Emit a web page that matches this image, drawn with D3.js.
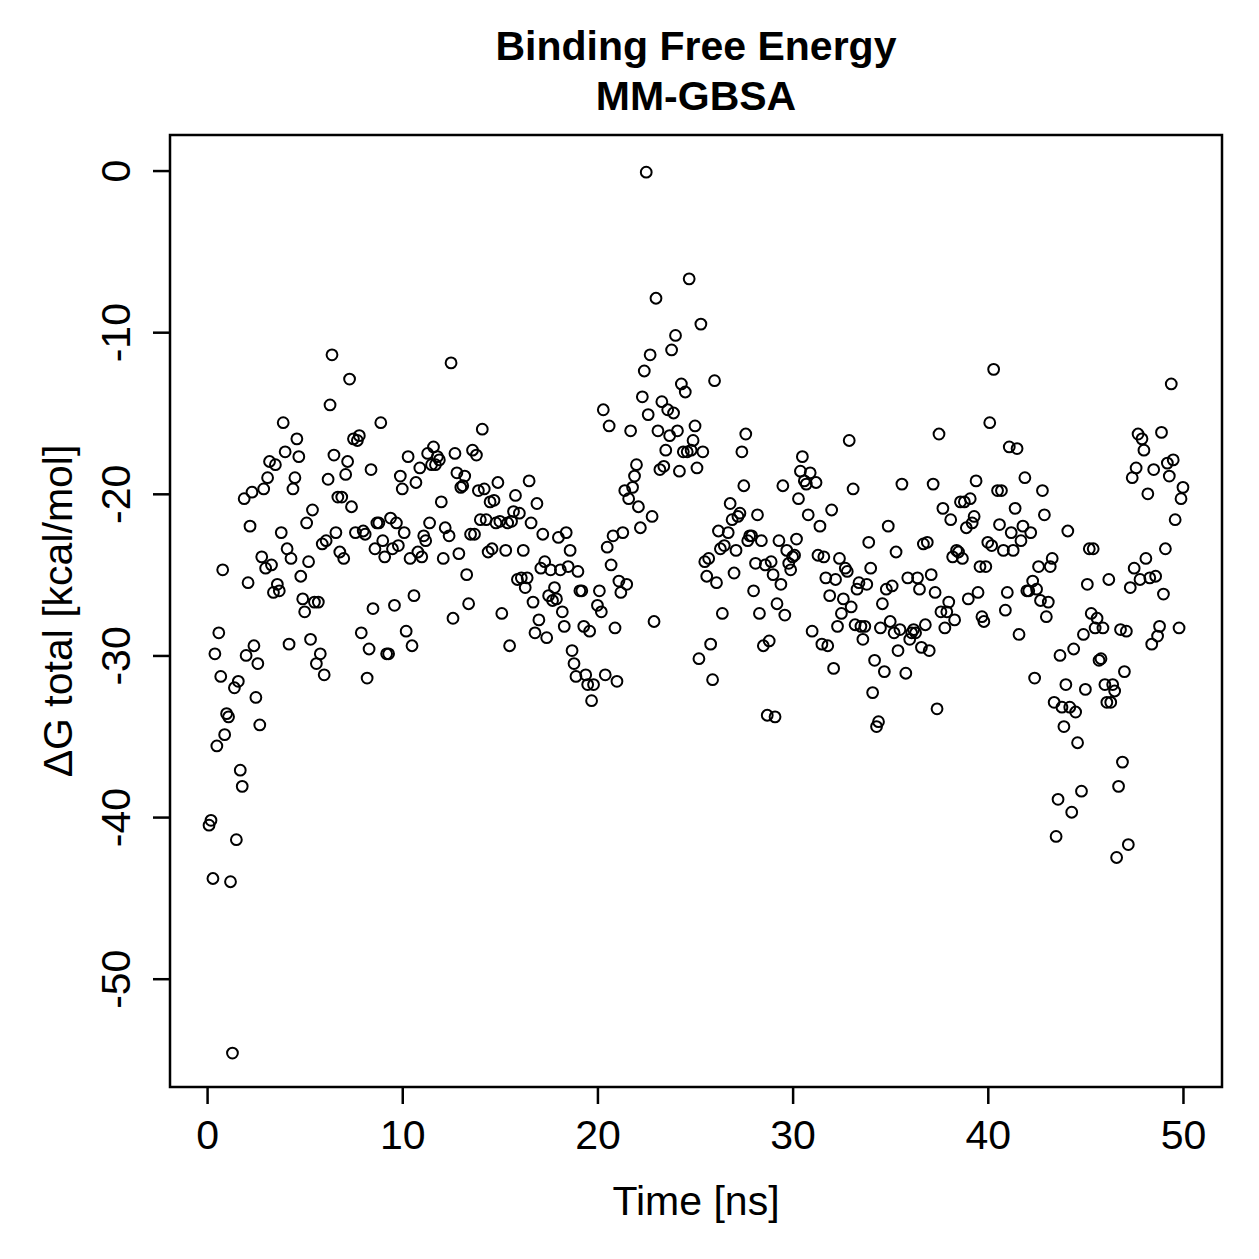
<!DOCTYPE html>
<html>
<head>
<meta charset="utf-8">
<script src="https://cdn.jsdelivr.net/npm/d3@7"></script>
<style>
  body { margin: 0; background: #fff; }
  text { font-family: "Liberation Sans", Arial, Helvetica, sans-serif; fill: #000; }
</style>
</head>
<body>
<div id="chart"></div>
<script>
// time of each frame [ns]
const time = [
  0.1,0.2,0.3,0.4,0.5,0.6,0.7,0.8,0.9,1.0,
  1.1,1.2,1.3,1.4,1.5,1.6,1.7,1.8,1.9,2.0,
  2.1,2.2,2.3,2.4,2.5,2.6,2.7,2.8,2.9,3.0,
  3.1,3.2,3.3,3.4,3.5,3.6,3.7,3.8,3.9,4.0,
  4.1,4.2,4.3,4.4,4.5,4.6,4.7,4.8,4.9,5.0,
  5.1,5.2,5.3,5.4,5.5,5.6,5.7,5.8,5.9,6.0,
  6.1,6.2,6.3,6.4,6.5,6.6,6.7,6.8,6.9,7.0,
  7.1,7.2,7.3,7.4,7.5,7.6,7.7,7.8,7.9,8.0,
  8.1,8.2,8.3,8.4,8.5,8.6,8.7,8.8,8.9,9.0,
  9.1,9.2,9.3,9.4,9.5,9.6,9.7,9.8,9.9,10.0,
  10.1,10.2,10.3,10.4,10.5,10.6,10.7,10.8,10.9,11.0,
  11.1,11.2,11.3,11.4,11.5,11.6,11.7,11.8,11.9,12.0,
  12.1,12.2,12.4,12.5,12.6,12.7,12.8,12.9,13.0,
  13.1,13.2,13.3,13.4,13.5,13.6,13.7,13.8,13.9,14.0,
  14.1,14.2,14.3,14.4,14.5,14.6,14.7,14.8,14.9,15.0,
  15.1,15.3,15.4,15.5,15.6,15.7,15.8,15.9,16.0,
  16.1,16.2,16.3,16.4,16.5,16.6,16.7,16.8,16.9,17.0,
  17.1,17.2,17.3,17.4,17.5,17.6,17.7,17.8,17.9,18.0,
  18.1,18.2,18.3,18.4,18.5,18.6,18.7,18.8,18.9,19.0,
  19.1,19.2,19.3,19.4,19.5,19.6,19.7,19.8,20.0,
  20.1,20.2,20.3,20.4,20.5,20.6,20.7,20.8,20.9,21.0,
  21.1,21.2,21.3,21.4,21.5,21.6,21.7,21.8,21.9,22.0,
  22.1,22.2,22.3,22.4,22.5,22.6,22.7,22.8,22.9,23.0,
  23.1,23.2,23.3,23.4,23.5,23.6,23.7,23.8,23.9,24.0,
  24.1,24.2,24.3,24.4,24.5,24.6,24.7,24.8,24.9,25.0,
  25.1,25.2,25.3,25.4,25.5,25.6,25.7,25.8,25.9,26.0,
  26.1,26.2,26.3,26.4,26.5,26.7,26.8,26.9,27.0,
  27.1,27.2,27.3,27.4,27.5,27.6,27.7,27.8,27.9,28.0,
  28.1,28.2,28.3,28.4,28.5,28.6,28.7,28.8,28.9,29.0,
  29.1,29.2,29.3,29.4,29.5,29.6,29.7,29.8,29.9,30.0,
  30.1,30.2,30.3,30.4,30.5,30.6,30.7,30.8,30.9,31.0,
  31.2,31.3,31.4,31.5,31.6,31.7,31.8,31.9,32.0,
  32.1,32.2,32.3,32.4,32.5,32.6,32.7,32.8,32.9,33.0,
  33.1,33.2,33.3,33.4,33.5,33.6,33.7,33.8,33.9,34.0,
  34.1,34.2,34.3,34.4,34.5,34.6,34.7,34.8,34.9,35.0,
  35.1,35.2,35.3,35.4,35.5,35.6,35.8,35.9,36.0,
  36.1,36.2,36.3,36.4,36.5,36.6,36.7,36.8,36.9,37.0,
  37.1,37.2,37.3,37.4,37.5,37.6,37.7,37.8,37.9,38.0,
  38.1,38.2,38.3,38.4,38.5,38.6,38.7,38.8,38.9,39.0,
  39.1,39.2,39.3,39.4,39.5,39.6,39.7,39.8,39.9,40.0,
  40.1,40.2,40.3,40.5,40.6,40.7,40.8,40.9,41.0,
  41.1,41.2,41.3,41.4,41.5,41.6,41.7,41.8,41.9,42.0,
  42.1,42.2,42.3,42.4,42.5,42.6,42.7,42.8,42.9,43.0,
  43.1,43.2,43.3,43.4,43.5,43.6,43.7,43.8,43.9,44.0,
  44.1,44.2,44.3,44.4,44.5,44.6,44.8,44.9,45.0,
  45.1,45.2,45.3,45.4,45.5,45.6,45.7,45.8,45.9,46.0,
  46.1,46.2,46.3,46.4,46.5,46.6,46.7,46.8,46.9,47.0,
  47.1,47.2,47.3,47.4,47.5,47.6,47.7,47.8,47.9,48.0,
  48.1,48.2,48.3,48.4,48.5,48.6,48.7,48.8,48.9,49.0,
  49.1,49.2,49.3,49.4,49.5,49.6,49.8,49.9,50.0
];

// delta G total [kcal/mol] for each frame
const dG = [
  -40.5,-40.2,-43.8,-29.9,-35.6,-28.6,-31.3,-24.7,-34.9,-33.6,
  -33.8,-44.0,-54.6,-32.0,-41.4,-31.6,-37.1,-38.1,-20.3,-30.0,
  -25.5,-22.0,-19.9,-29.4,-32.6,-30.5,-34.3,-23.9,-19.7,-24.6,
  -19.0,-18.0,-24.4,-26.1,-18.2,-25.6,-26.0,-22.4,-15.6,-17.4,
  -23.4,-29.3,-24.0,-19.7,-19.0,-16.6,-17.7,-25.1,-26.5,-27.3,
  -21.8,-24.2,-29.0,-21.0,-26.7,-30.5,-26.7,-29.9,-23.1,-31.2,
  -22.9,-19.1,-14.5,-11.4,-17.6,-22.4,-20.2,-23.6,-20.2,-24.0,
  -18.8,-18.0,-12.9,-20.8,-16.6,-22.4,-16.7,-16.4,-28.6,-22.3,
  -22.5,-31.4,-29.6,-18.5,-27.1,-23.4,-21.8,-21.8,-15.6,-22.9,
  -23.9,-29.9,-29.9,-21.5,-23.4,-26.9,-21.8,-23.2,-18.9,-19.7,
  -22.4,-28.5,-17.7,-24.0,-29.4,-26.3,-19.3,-23.6,-18.4,-23.9,
  -22.6,-22.9,-17.5,-21.8,-18.2,-17.1,-18.2,-17.7,-17.9,-20.5,
  -24.0,-22.1,-22.6,-11.9,-27.7,-17.5,-18.7,-23.7,-19.6,
  -19.5,-18.9,-25.0,-26.8,-22.5,-17.3,-22.5,-17.6,-19.8,-21.6,
  -16.0,-19.7,-21.6,-23.6,-20.5,-23.4,-20.4,-21.8,-19.3,-21.7,
  -27.4,-23.5,-21.8,-29.4,-21.7,-21.1,-20.1,-25.3,-21.2,
  -25.2,-23.5,-25.8,-25.2,-19.2,-21.8,-26.7,-28.6,-20.6,-27.8,
  -24.6,-22.5,-24.2,-28.9,-26.3,-24.7,-26.6,-25.8,-26.5,-22.7,
  -24.7,-27.3,-28.2,-22.4,-24.5,-23.5,-29.7,-30.5,-31.3,-24.8,
  -26.0,-26.0,-28.2,-31.2,-31.8,-28.5,-32.8,-31.8,-26.9,
  -26.0,-27.3,-14.8,-31.2,-23.3,-15.8,-24.4,-22.6,-28.3,-31.6,
  -25.4,-26.1,-22.4,-19.8,-25.6,-20.3,-16.1,-19.6,-18.9,-18.2,
  -20.8,-22.1,-14.0,-12.4,-0.1,-15.1,-11.4,-21.4,-27.9,-7.9,
  -16.1,-18.5,-14.3,-18.3,-17.3,-14.8,-16.4,-11.1,-15.0,-10.2,
  -16.1,-18.6,-13.2,-17.4,-13.7,-17.4,-6.7,-17.3,-16.7,-15.8,
  -18.4,-30.2,-9.5,-17.4,-24.2,-25.1,-24.0,-29.3,-31.5,-13.0,
  -25.5,-22.3,-23.4,-27.4,-23.2,-22.4,-20.6,-21.6,-24.9,
  -23.5,-21.4,-21.2,-17.4,-19.5,-16.3,-22.9,-22.6,-22.6,-26.0,
  -24.3,-21.3,-27.4,-22.9,-29.4,-24.4,-33.7,-29.1,-24.2,-25.0,
  -33.8,-26.8,-22.9,-25.6,-19.5,-27.5,-23.5,-24.3,-24.7,-23.9,
  -23.8,-22.8,-20.3,-18.6,-17.7,-19.2,-19.4,-21.3,-18.7,-28.5,
  -19.3,-23.8,-22.0,-29.3,-23.9,-25.2,-29.4,-26.3,-21.0,
  -30.8,-25.3,-28.2,-24.0,-27.4,-26.5,-24.6,-24.8,-16.7,-27.0,
  -19.7,-28.1,-25.9,-25.5,-28.2,-29.0,-28.2,-25.6,-23.0,-24.6,
  -32.3,-30.3,-34.4,-34.1,-28.3,-26.8,-31.0,-25.9,-22.0,-27.9,
  -25.7,-28.6,-23.6,-29.7,-28.4,-19.4,-31.1,-25.2,-29.0,
  -28.6,-28.4,-28.6,-25.2,-25.9,-29.5,-23.1,-28.1,-23.0,-29.7,
  -25.0,-19.4,-26.1,-33.3,-16.3,-27.3,-20.9,-28.3,-27.3,-26.7,
  -21.6,-23.9,-27.8,-23.5,-23.6,-20.5,-24.0,-20.5,-22.1,-26.5,
  -20.3,-21.8,-21.4,-19.2,-26.1,-24.5,-27.6,-27.9,-24.5,-23.0,
  -15.6,-23.2,-12.3,-19.8,-21.9,-19.8,-23.5,-27.2,-26.1,
  -17.1,-22.4,-23.5,-20.9,-17.2,-28.7,-22.9,-22.0,-19.0,-26.0,
  -26.0,-22.4,-25.4,-31.4,-25.9,-24.5,-26.6,-19.8,-21.3,-27.6,
  -26.7,-24.5,-24.0,-32.9,-41.2,-38.9,-30.0,-33.2,-34.4,-31.8,
  -22.3,-33.2,-39.7,-29.6,-33.5,-35.4,-38.4,-28.7,-32.1,
  -25.6,-23.4,-27.4,-23.4,-28.3,-27.7,-30.3,-30.2,-28.3,-31.8,
  -32.9,-25.3,-32.9,-31.8,-32.2,-42.5,-38.1,-28.4,-36.6,-31.0,
  -28.5,-41.7,-25.8,-19.0,-24.6,-18.4,-16.3,-25.3,-16.6,-17.3,
  -24.0,-20.0,-25.2,-29.3,-18.5,-25.1,-28.8,-28.2,-16.2,-26.2,
  -23.4,-18.1,-18.9,-13.2,-17.9,-21.6,-28.3,-20.3,-19.6
];

const xTicks = [0, 10, 20, 30, 40, 50];
const yTicks = [0, -10, -20, -30, -40, -50];
const titleLines = ["Binding Free Energy", "MM-GBSA"];
const xLabel = "Time [ns]";
const yLabel = "\u0394G total [kcal/mol]";

function drawScatter() {
    const width = 1259, height = 1259;
    const margin = {top: 135, right: 37, bottom: 172, left: 170};
    const fontSize = 41;

    const x = d3.scaleLinear().domain([-1.9, 52.0]).range([margin.left, width - margin.right]);
    const y = d3.scaleLinear().domain([-56.7, 2.2]).range([height - margin.bottom, margin.top]);

    const svg = d3.select("#chart").append("svg")
        .attr("width", width)
        .attr("height", height);

    svg.append("rect")
        .attr("width", width).attr("height", height)
        .attr("fill", "#fff");

    const points = time.map((t, i) => ({t: t, v: dG[i]}));

    // the circles
    svg.append("g")
        .selectAll("circle")
        .data(points)
        .enter().append("circle")
        .attr("cx", d => x(d.t))
        .attr("cy", d => y(d.v))
        .attr("r", 5.4)
        .attr("fill", "none")
        .attr("stroke", "#000")
        .attr("stroke-width", 2);

    // x axis
    const xAxis = svg.append("g")
        .attr("transform", "translate(0," + (height - margin.bottom) + ")")
        .call(d3.axisBottom(x).tickValues(xTicks).tickSize(17).tickPadding(16));
    xAxis.select(".domain").remove();
    xAxis.selectAll("line").attr("stroke-width", 2.5);
    xAxis.selectAll("text").style("font-size", fontSize + "px");

    // y axis, labels turned like R does
    const yAxis = svg.append("g")
        .attr("transform", "translate(" + margin.left + ",0)")
        .call(d3.axisLeft(y).tickValues(yTicks).tickSize(17).tickFormat(d3.format("d")));
    yAxis.select(".domain").remove();
    yAxis.selectAll("line").attr("stroke-width", 2.5);
    yAxis.selectAll("text")
        .attr("transform", "rotate(-90)")
        .attr("x", 0)
        .attr("y", -40)
        .attr("dy", null)
        .attr("text-anchor", "middle")
        .style("font-size", fontSize + "px")
        .text(d => d < 0 ? "-" + Math.abs(d) : d);

    // plot box
    svg.append("rect")
        .attr("x", margin.left)
        .attr("y", margin.top)
        .attr("width", width - margin.left - margin.right)
        .attr("height", height - margin.top - margin.bottom)
        .attr("fill", "none")
        .attr("stroke", "#000")
        .attr("stroke-width", 2.5);

    // title
    const cx = (margin.left + width - margin.right) / 2;
    svg.selectAll(".title")
        .data(titleLines)
        .enter().append("text")
        .attr("class", "title")
        .attr("x", cx)
        .attr("y", (d, i) => 60 + i * 50)
        .attr("text-anchor", "middle")
        .style("font-size", fontSize + "px")
        .style("font-weight", "bold")
        .text(d => d);

    // axis labels
    svg.append("text")
        .attr("x", cx)
        .attr("y", 1215)
        .attr("text-anchor", "middle")
        .style("font-size", fontSize + "px")
        .text(xLabel);

    svg.append("text")
        .attr("transform", "translate(72," + ((margin.top + height - margin.bottom) / 2) + ") rotate(-90)")
        .attr("text-anchor", "middle")
        .style("font-size", fontSize + "px")
        .text(yLabel);
}

drawScatter();
</script>
</body>
</html>
